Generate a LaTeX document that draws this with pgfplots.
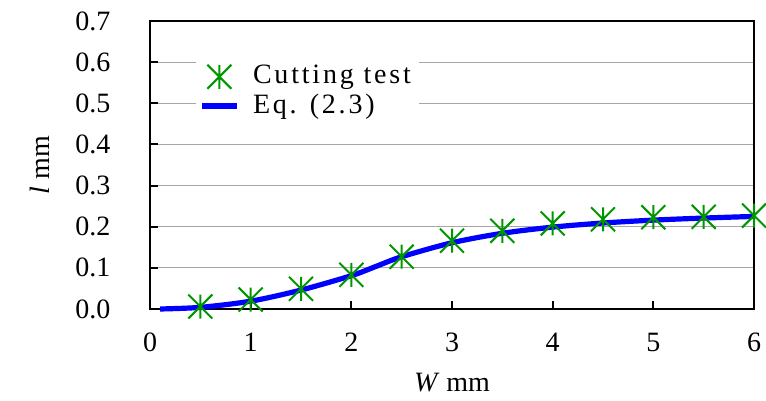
\documentclass[border=0pt]{standalone}
\usepackage{fontspec}
\setmainfont{Liberation Serif}
\usepackage{pgfplots}
\pgfplotsset{compat=1.18}

\definecolor{markgreen}{RGB}{0,150,0}
\definecolor{lineblue}{RGB}{0,0,255}

% vertical bar plus an x, like the Excel star marker
\pgfdeclareplotmark{xstar}{%
  \pgfpathmoveto{\pgfqpoint{0pt}{\pgfplotmarksize}}%
  \pgfpathlineto{\pgfqpoint{0pt}{-\pgfplotmarksize}}%
  \pgfpathmoveto{\pgfqpoint{-\pgfplotmarksize}{\pgfplotmarksize}}%
  \pgfpathlineto{\pgfqpoint{\pgfplotmarksize}{-\pgfplotmarksize}}%
  \pgfpathmoveto{\pgfqpoint{-\pgfplotmarksize}{-\pgfplotmarksize}}%
  \pgfpathlineto{\pgfqpoint{\pgfplotmarksize}{\pgfplotmarksize}}%
  \pgfusepathqstroke}

\begin{document}
\fontsize{14}{17}\selectfont
\begin{tikzpicture}
\begin{axis}[
    name=ax,
    scale only axis,
    width=302pt, height=144pt,
    xmin=0, xmax=6, ymin=0, ymax=0.7,
    xtick={0,1,2,3,4,5,6},
    ytick={0,0.1,0.2,0.3,0.4,0.5,0.6,0.7},
    tick align=inside,
    tick pos=left,
    major tick length=4pt,
    axis line style={line width=1pt},
    tick style={line width=1pt, black},
    ymajorgrids,
    grid style={gray!70, line width=0.6pt},
    /pgf/number format/assume math mode=true,
    yticklabel style={/pgf/number format/fixed, /pgf/number format/fixed zerofill,
        /pgf/number format/precision=1, xshift=-15pt},
    xticklabel style={yshift=-7pt},
    ticklabel style={font=\fontsize{14}{17}\selectfont},
    xlabel={\textit{W} mm},
    ylabel={\textit{l} mm},
    label style={font=\fontsize{14}{17}\selectfont},
    xlabel style={at={(axis description cs:0.5,-0.257)}, anchor=center},
    ylabel style={at={(axis description cs:-0.182,0.5)}, anchor=center},
    clip=false,
    reverse legend,
    legend cell align=left,
    legend style={draw=none, fill=white, at={(0.075,0.875)}, anchor=north west,
        font=\fontsize{14}{17}\selectfont\addfontfeature{LetterSpace=10},
        row sep=-1pt, column sep=5pt, inner sep=2pt},
]
\addplot[lineblue, line width=2.6pt, smooth, no marks] coordinates {
 (0.1,0) (0.5,0.004) (1,0.019) (1.5,0.046) (2,0.081) (2.25,0.104)
 (2.5,0.127) (3,0.161) (3.5,0.184) (4,0.199) (4.5,0.209)
 (5,0.216) (5.5,0.221) (6,0.225)
};
\addlegendentry{Eq. (2.3)}
\addplot[only marks, mark=xstar, mark size=6pt, markgreen,
    mark options={line width=1pt}] coordinates {
 (0.5,0.006) (1,0.023) (1.5,0.049) (2,0.083) (2.5,0.127) (3,0.166)
 (3.5,0.190) (4,0.208) (4.5,0.218) (5,0.223) (5.5,0.224) (6,0.227)
};
\addlegendentry{Cutting test}
\end{axis}
\pgfresetboundingbox
\path ([shift={(-75pt,-46pt)}]ax.south west) rectangle ([shift={(6pt,10.5pt)}]ax.north east);
\end{tikzpicture}
\end{document}
